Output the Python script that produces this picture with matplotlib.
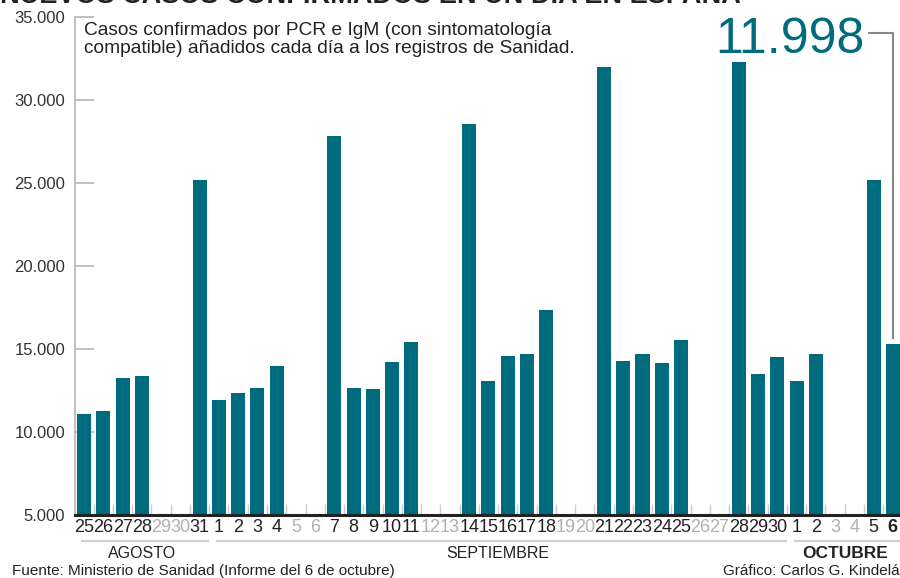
import matplotlib
matplotlib.use('agg')

import numpy as np
import matplotlib.pyplot as plt
import matplotlib.transforms as mtransforms

plt.rcParams['font.family'] = ['Liberation Sans', 'DejaVu Sans']

# Daily cases, 25 Aug to 6 Oct (no report on weekends)
days = ['25', '26', '27', '28', '29', '30', '31',
        '1', '2', '3', '4', '5', '6', '7', '8', '9', '10', '11', '12', '13',
        '14', '15', '16', '17', '18', '19', '20', '21', '22', '23', '24', '25',
        '26', '27', '28', '29', '30',
        '1', '2', '3', '4', '5', '6']
cases = [11100, 11260, 13250, 13370, None, None, 25200,
         11930, 12350, 12650, 13980, None, None, 27830, 12650, 12590, 14220, 15420, None, None,
         28550, 13070, 14580, 14700, 17350, None, None, 31990, 14280, 14700, 14160, 15540,
         None, None, 32290, 13500, 14520,
         13070, 14700, None, None, 25180, 15300]
weekend = [c is None for c in cases]
months = ['AGOSTO', 'SEPTIEMBRE', 'OCTUBRE']
month_days = [7, 30, 6]
callout_value = 11998
yticks = [5000, 10000, 15000, 20000, 25000, 30000, 35000]

TEAL = '#006b7d'
GREY = '#b5b5b5'

fig = plt.figure(figsize=(9, 5.78), dpi=100)
ax = fig.add_axes([75 / 900, 1 - 515 / 578, 825 / 900, 498 / 578])

x = np.arange(len(days))
vals = np.array([np.nan if c is None else c for c in cases], dtype=float)
ax.bar(x, vals - 5000, bottom=5000, width=0.73, color=TEAL, zorder=3)

xmin, xmax = -0.47, len(days) - 1 + 0.37
ax.set_xlim(xmin, xmax)
ax.set_ylim(5000, 35000)

# y axis
ax.set_yticks(yticks)
ax.set_yticklabels([f'{v:,}'.replace(',', '.') for v in yticks], fontsize=12, color='#333333')
ax.tick_params(axis='y', direction='in', length=14, width=1.2, color=GREY, pad=7)

# x axis
ax.set_xticks(x)
ax.set_xticklabels(days, fontsize=13)
for lbl, off in zip(ax.get_xticklabels(), weekend):
    lbl.set_color('#b0b0b0' if off else '#222222')
ax.get_xticklabels()[-1].set_fontweight('bold')
ax.tick_params(axis='x', length=0, pad=3)
ax.set_xticks(x[:-1] + 0.5, minor=True)
ax.tick_params(axis='x', which='minor', direction='in', length=8, width=1, color='#cccccc')

for side in ['top', 'right']:
    ax.spines[side].set_visible(False)
ax.spines['left'].set_color(GREY)
ax.spines['left'].set_linewidth(1.2)
ax.spines['bottom'].set_color('#222222')
ax.spines['bottom'].set_linewidth(2.2)
ax.spines['bottom'].set_zorder(4)

# month brackets
trans = mtransforms.blended_transform_factory(ax.transData, ax.transAxes)
start = 0
for i, (name, n) in enumerate(zip(months, month_days)):
    x0 = max(start - 0.1, xmin + 0.05)
    x1 = min(start + n - 1 + 0.44, xmax)
    ax.plot([x0, x1], [-0.053, -0.053], transform=trans, color='#d0d0d0', lw=1.6, clip_on=False)
    ax.text((start + start + n - 1) / 2, -0.077, name, transform=trans, ha='center', va='center',
            fontsize=11.5 if i < 2 else 12.5, color='#222222',
            fontweight='bold' if i == len(months) - 1 else 'normal')
    start += n

# note
ax.text(0.011, 0.99, 'Casos confirmados por PCR e IgM (con sintomatología\n'
        'compatible) añadidos cada día a los registros de Sanidad.',
        transform=ax.transAxes, ha='left', va='top', fontsize=13.8, color='#222222',
        linespacing=1.1)

# callout for last day
last = len(days) - 1
ax.text(40.55, 32830, f'{callout_value:,}'.replace(',', '.'), ha='right', va='baseline',
        fontsize=36, color=TEAL, family=['Liberation Sans Narrow', 'Liberation Sans'])
ax.plot([40.75, last, last], [34040, 34040, cases[-1] + 350], color='#888888', lw=1.5,
        clip_on=False, zorder=5)

# title (cut off at the top) and footer
fig.text(0.0, 1 - 3 / 578, 'NUEVOS CASOS CONFIRMADOS EN UN DÍA EN ESPAÑA', ha='left',
         va='baseline', fontsize=19.5, fontweight='bold', color='#222222',
         family=['Liberation Sans Narrow', 'Liberation Sans'])
fig.text(12 / 900, 1 - 571 / 578, 'Fuente: Ministerio de Sanidad (Informe del 6 de octubre)',
         ha='left', va='center', fontsize=11, color='#222222')
fig.text(1.0 + 8 / 900, 1 - 571 / 578, 'Gráfico: Carlos G. Kindelán',
         ha='right', va='center', fontsize=11, color='#222222')

fig.savefig('out.png', dpi=100)
plt.close(fig)
